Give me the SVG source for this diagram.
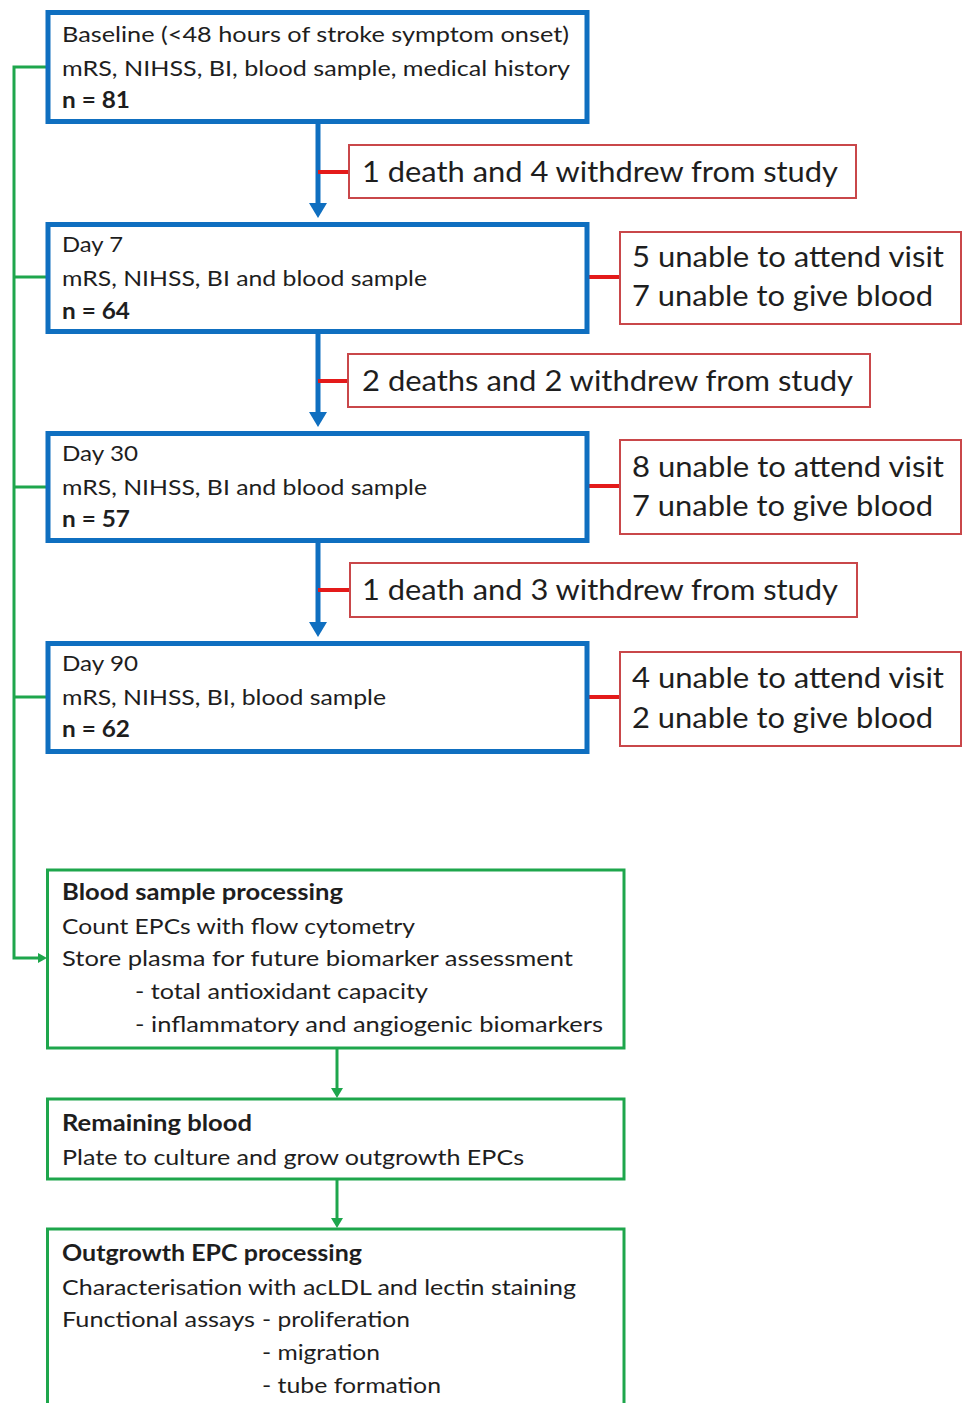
<svg xmlns="http://www.w3.org/2000/svg" width="963" height="1403" viewBox="0 0 963 1403">
<defs>
<style>
text{font-family:Lato,"Open Sans","Liberation Sans",sans-serif;fill:#1e1e1e;}
.t{font-size:22px;}
.b{font-size:22px;font-weight:bold;}
.r{font-size:29px;}
.bluebox{fill:#fff;stroke:#0F6FC0;stroke-width:5;}
.redbox{fill:#fff;stroke:#C9474A;stroke-width:2;}
.greenbox{fill:#fff;stroke:#1EA64C;stroke-width:3;}
.blue{stroke:#0F6FC0;stroke-width:5;fill:none;}
.red{stroke:#E41A1A;stroke-width:4;fill:none;}
.green{stroke:#1EA64C;stroke-width:3;fill:none;}
</style>
</defs>
<rect width="963" height="1403" fill="#fff"/>

<g id="connectors">
<path class="blue" d="M318 124V205"/>
<polygon points="309,203 327,203 318,218" fill="#0F6FC0"/>
<path class="blue" d="M318 334V414"/>
<polygon points="309,412 327,412 318,427" fill="#0F6FC0"/>
<path class="blue" d="M318 543V624"/>
<polygon points="309,622 327,622 318,637" fill="#0F6FC0"/>
<path class="red" d="M318 172H349M318 381H348M318 590H350M587 277H620M587 486H620M587 697H620"/>
<path class="green" d="M46 67H14V958H40M14 277H46M14 487H46M14 697H46"/>
<polygon points="38,953 47,958 38,963" fill="#1EA64C"/>
<path class="green" d="M337 1049V1090"/>
<polygon points="331,1088 343,1088 337,1098" fill="#1EA64C"/>
<path class="green" d="M337 1180V1220"/>
<polygon points="331,1218 343,1218 337,1228" fill="#1EA64C"/>
</g>

<g id="baseline">
<rect class="bluebox" x="48" y="12.5" width="539" height="109"/>
<text class="t" x="62" y="42" textLength="507" lengthAdjust="spacingAndGlyphs">Baseline (&lt;48 hours of stroke symptom onset)</text>
<text class="t" x="62" y="76" textLength="508" lengthAdjust="spacingAndGlyphs">mRS, NIHSS, BI, blood sample, medical history</text>
<text class="b" x="62" y="108" textLength="68" lengthAdjust="spacingAndGlyphs">n = 81</text>
</g>

<g id="loss1">
<rect class="redbox" x="349" y="145" width="507" height="53"/>
<text class="r" x="362" y="182" textLength="476" lengthAdjust="spacingAndGlyphs">1 death and 4 withdrew from study</text>
</g>

<g id="day7">
<rect class="bluebox" x="48" y="224.5" width="539" height="107"/>
<text class="t" x="62" y="252" textLength="61" lengthAdjust="spacingAndGlyphs">Day 7</text>
<text class="t" x="62" y="286" textLength="365" lengthAdjust="spacingAndGlyphs">mRS, NIHSS, BI and blood sample</text>
<text class="b" x="62" y="319" textLength="68" lengthAdjust="spacingAndGlyphs">n = 64</text>
</g>

<g id="missing7">
<rect class="redbox" x="620" y="232" width="341" height="92"/>
<text class="r" x="632" y="267" textLength="312" lengthAdjust="spacingAndGlyphs">5 unable to attend visit</text>
<text class="r" x="632" y="306" textLength="301" lengthAdjust="spacingAndGlyphs">7 unable to give blood</text>
</g>

<g id="loss2">
<rect class="redbox" x="348" y="354" width="522" height="53"/>
<text class="r" x="362" y="391" textLength="491" lengthAdjust="spacingAndGlyphs">2 deaths and 2 withdrew from study</text>
</g>

<g id="day30">
<rect class="bluebox" x="48" y="433.5" width="539" height="107"/>
<text class="t" x="62" y="461" textLength="76" lengthAdjust="spacingAndGlyphs">Day 30</text>
<text class="t" x="62" y="495" textLength="365" lengthAdjust="spacingAndGlyphs">mRS, NIHSS, BI and blood sample</text>
<text class="b" x="62" y="527" textLength="68" lengthAdjust="spacingAndGlyphs">n = 57</text>
</g>

<g id="missing30">
<rect class="redbox" x="620" y="440" width="341" height="94"/>
<text class="r" x="632" y="477" textLength="312" lengthAdjust="spacingAndGlyphs">8 unable to attend visit</text>
<text class="r" x="632" y="516" textLength="301" lengthAdjust="spacingAndGlyphs">7 unable to give blood</text>
</g>

<g id="loss3">
<rect class="redbox" x="350" y="563" width="507" height="54"/>
<text class="r" x="362" y="600" textLength="476" lengthAdjust="spacingAndGlyphs">1 death and 3 withdrew from study</text>
</g>

<g id="day90">
<rect class="bluebox" x="48" y="643.5" width="539" height="108"/>
<text class="t" x="62" y="671" textLength="76" lengthAdjust="spacingAndGlyphs">Day 90</text>
<text class="t" x="62" y="705" textLength="324" lengthAdjust="spacingAndGlyphs">mRS, NIHSS, BI, blood sample</text>
<text class="b" x="62" y="737" textLength="68" lengthAdjust="spacingAndGlyphs">n = 62</text>
</g>

<g id="missing90">
<rect class="redbox" x="620" y="652" width="341" height="94"/>
<text class="r" x="632" y="688" textLength="312" lengthAdjust="spacingAndGlyphs">4 unable to attend visit</text>
<text class="r" x="632" y="728" textLength="301" lengthAdjust="spacingAndGlyphs">2 unable to give blood</text>
</g>

<g id="bloodprocessing">
<rect class="greenbox" x="47.5" y="870" width="576.5" height="178"/>
<text class="b" x="62" y="900" textLength="281" lengthAdjust="spacingAndGlyphs">Blood sample processing</text>
<text class="t" x="62" y="934" textLength="353" lengthAdjust="spacingAndGlyphs">Count EPCs with flow cytometry</text>
<text class="t" x="62" y="966" textLength="511" lengthAdjust="spacingAndGlyphs">Store plasma for future biomarker assessment</text>
<text class="t" x="135" y="999" textLength="293" lengthAdjust="spacingAndGlyphs">- total antioxidant capacity</text>
<text class="t" x="135" y="1032" textLength="468" lengthAdjust="spacingAndGlyphs">- inflammatory and angiogenic biomarkers</text>
</g>

<g id="remainingblood">
<rect class="greenbox" x="47.5" y="1099" width="576.5" height="80"/>
<text class="b" x="62" y="1131" textLength="190" lengthAdjust="spacingAndGlyphs">Remaining blood</text>
<text class="t" x="62" y="1165" textLength="462" lengthAdjust="spacingAndGlyphs">Plate to culture and grow outgrowth EPCs</text>
</g>

<g id="outgrowth">
<rect class="greenbox" x="47.5" y="1229" width="576.5" height="200"/>
<text class="b" x="62" y="1261" textLength="300" lengthAdjust="spacingAndGlyphs">Outgrowth EPC processing</text>
<text class="t" x="62" y="1295" textLength="514" lengthAdjust="spacingAndGlyphs">Characterisation with acLDL and lectin staining</text>
<text class="t" x="62" y="1327" textLength="193" lengthAdjust="spacingAndGlyphs">Functional assays</text>
<text class="t" x="262" y="1327" textLength="148" lengthAdjust="spacingAndGlyphs">- proliferation</text>
<text class="t" x="262" y="1360" textLength="118" lengthAdjust="spacingAndGlyphs">- migration</text>
<text class="t" x="262" y="1393" textLength="179" lengthAdjust="spacingAndGlyphs">- tube formation</text>
</g>
</svg>
